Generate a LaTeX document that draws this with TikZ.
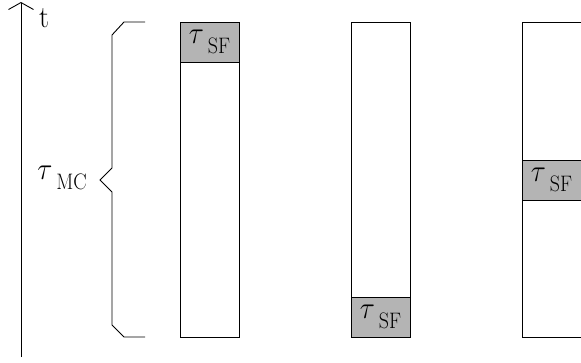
\RequirePackage{fix-cm}
\documentclass[tikz,border=0pt]{standalone}
\usetikzlibrary{arrows.meta}
\definecolor{boxgray}{RGB}{180,180,180}
\newcommand{\taulbl}[1]{\scalebox{1}[1.12]{{\fontsize{28}{33}\selectfont$\tau$}\hspace{4pt}\raisebox{-9pt}{\fontsize{20}{24}\selectfont #1}}}
\begin{document}
\begin{tikzpicture}[x=1pt,y=-1pt,
  line width=0.9pt,
  col/.style={draw, minimum width=59pt, minimum height=315pt, anchor=north west, inner sep=0pt, outer sep=0pt},
  sfbox/.style={draw, fill=boxgray, minimum width=59pt, minimum height=40pt, anchor=north west, inner sep=0pt, outer sep=0pt},
  lbl/.style={inner sep=0pt}]
\useasboundingbox (0,0) rectangle (581,362);
\clip (0,0) rectangle (581,362);
% time axis
\coordinate (a0) at (21,357);
\coordinate (a1) at (21,2);
\draw[-{Straight Barb[length=7pt,width=25pt,line width=0.9pt]}] (a0) -- (a1);
\node[lbl, anchor=base] (t) at (44,27) {\scalebox{1}[1.1]{\fontsize{28}{33}\selectfont t}};
% brace
\coordinate (b1) at (145,22);
\coordinate (b9) at (145,337);
\coordinate (bt) at (100,180);
\draw (b1) -- (124,22) -- (112,35) -- (112,168) -- (bt) -- (112,192) -- (112,325) -- (124,337) -- (b9);
\node[lbl] (mc) at (62,178) {\taulbl{MC}};
% columns
\node[col] (c1) at (180,22) {};
\node[col] (c2) at (351,22) {};
\node[col] (c3) at (522,22) {};
\node[sfbox] (s1) at (180,22) {\taulbl{SF}};
\node[sfbox] (s2) at (351,297) {\taulbl{SF}};
\node[sfbox] (s3) at (522,160) {\taulbl{SF}};
\end{tikzpicture}
\end{document}
